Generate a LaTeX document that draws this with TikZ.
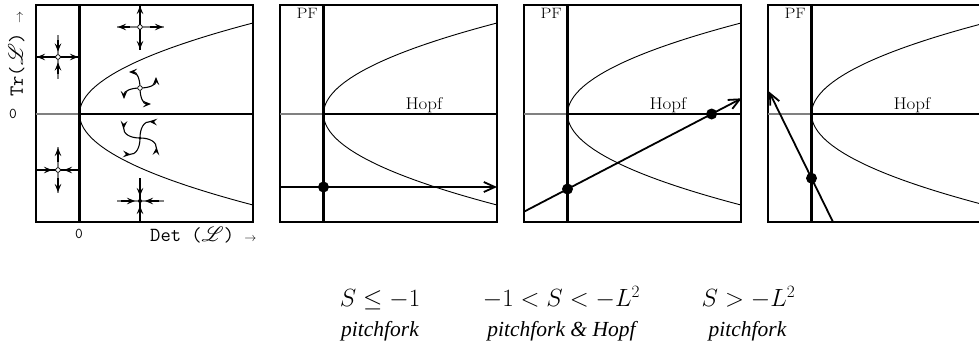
\documentclass[tikz,border=0pt]{standalone}
\usepackage{fontspec}
\usepackage{mathrsfs}
\usepackage{graphicx}
\usetikzlibrary{arrows.meta}
\newfontfamily\timesfont{Liberation Serif}
\begin{document}
\begin{tikzpicture}[x=1pt,y=-1pt,
  boxline/.style={line width=1.3pt},
  thickline/.style={line width=2.6pt},
  curveline/.style={line width=0.9pt},
  grayline/.style={line width=1.3pt, gray},
  blackline/.style={line width=1.1pt},
  traj/.style={line width=1.8pt},
  bigdot/.style={circle, fill, inner sep=0pt, minimum size=11pt},
  opendot/.style={circle, draw, fill=white, inner sep=0pt, minimum size=4.6pt, line width=0.7pt},
  smalldot/.style={circle, fill, inner sep=0pt, minimum size=4pt},
  pa/.style={line width=1.1pt, -{Stealth[length=8pt,width=6.5pt,inset=3pt]}},
  pastart/.style={line width=1.1pt, {Stealth[length=8pt,width=6.5pt,inset=3pt,reversed]}-},
  trajarrow/.style={traj, -{Straight Barb[length=11pt,width=10pt]}},
  lab/.style={font=\fontsize{17}{20}\selectfont, inner sep=0pt},
  pflab/.style={font=\fontsize{15}{17}\selectfont, inner sep=0pt},
  ttlab/.style={font=\ttfamily\fontsize{20}{24}\selectfont, inner sep=0pt},
  zerolab/.style={font=\ttfamily\fontsize{15}{17}\selectfont, inner sep=0pt},
  mathlab/.style={font=\fontsize{23}{27}\selectfont, inner sep=0pt, anchor=base},
  itlab/.style={font=\timesfont\itshape\fontsize{21.5}{26}\selectfont, inner sep=0pt, anchor=base}
]
\useasboundingbox (0,0) rectangle (979,359);
\clip (0,0) rectangle (979,359);

% panels
\foreach \L/\R in {36/253, 280/497, 524/741, 768/985}{
  \draw[boxline] (\L,5) rectangle (\R,222);
  \draw[grayline] (\L,114) -- (\L+43.5,114);
  \draw[curveline] plot[domain=-13.17:13.17, samples=90, smooth]
     ({\L+43.5+(\x)*(\x)},{114+6.91*\x});
  \draw[thickline] (\L+43.5,114) -- (\R,114);
  \draw[thickline] (\L+43.5,5) -- (\L+43.5,222);
}
\node[pflab, anchor=base east] (pf2) at (318,18) {\scalebox{1.15}[1]{PF}};
\node[pflab, anchor=base east] (pf3) at (562,18) {\scalebox{1.15}[1]{PF}};
\node[pflab, anchor=base east] (pf4) at (806,18) {\scalebox{1.15}[1]{PF}};
\foreach \L in {280,524,768}{
  \node[lab, anchor=base] (hopf\L) at (\L+144,109) {\scalebox{1.12}[1]{Hopf}};
}

% panel 1 labels
\node[ttlab, rotate=90, anchor=base west] (tr) at (23,97) {Tr($\mathscr{L}$) {\fontsize{12}{12}\selectfont$\rightarrow$}};
\node[ttlab, anchor=base west] (det) at (150,241.5) {Det ($\mathscr{L}$) {\fontsize{12}{12}\selectfont$\rightarrow$}};
\node[zerolab] (z1) at (13,114) {0};
\node[zerolab] (z2) at (79,234) {0};

% saddle top-left
\draw[grayline] (58,35) -- (58,79);
\draw[blackline] (36,57) -- (79,57);
\draw[pa] (50,57) -- (37,57);
\draw[pa] (66,57) -- (78,57);
\draw[pa] (58,40) -- (58,51.5);
\draw[pa] (58,74) -- (58,62.5);
\node[opendot] (s1) at (58,57) {};

% saddle bottom-left
\draw[grayline] (58,147) -- (58,193);
\draw[blackline] (36,170) -- (79,170);
\draw[pa] (40,170) -- (52,170);
\draw[pa] (76,170) -- (64,170);
\draw[pa] (58,162) -- (58,148);
\draw[pa] (58,178) -- (58,192);
\node[opendot] (s2) at (58,170) {};

% unstable node top-right
\draw[grayline] (117,27) -- (164,27);
\draw[blackline] (140,5) -- (140,50);
\draw[pa] (130,27) -- (118,27);
\draw[pa] (150,27) -- (163,27);
\draw[pa] (140,19) -- (140,6);
\draw[pa] (140,35) -- (140,49);
\node[opendot] (n1) at (140,27) {};

% stable node bottom-right
\draw[grayline] (117,201) -- (164,201);
\draw[blackline] (140,178) -- (140,222);
\draw[pa] (121,201) -- (135,201);
\draw[pa] (159,201) -- (145,201);
\draw[pa] (140,181) -- (140,196);
\draw[pa] (140,221) -- (140,206);
\node[smalldot] (n2) at (140,201) {};

% unstable spiral
\begin{scope}[shift={(140,88)}]
  \draw[pa] (0,0) .. controls (0,-9) and (-3,-16) .. (-11,-16);
  \draw[pa] (0,0) .. controls (9,0) and (16,-3) .. (16,-11);
  \draw[pa] (0,0) .. controls (0,9) and (3,16) .. (11,16);
  \draw[pa] (0,0) .. controls (-9,0) and (-16,3) .. (-16,11);
  \node[opendot] (u1) at (0,0) {};
\end{scope}

% stable spiral
\begin{scope}[shift={(140,138)}]
  \draw[pastart] (17,-16) .. controls (4,-17) and (0,-10) .. (0,0);
  \draw[pastart] (-16,-17) .. controls (-17,-4) and (-10,0) .. (0,0);
  \draw[pastart] (-17,16) .. controls (-4,17) and (0,10) .. (0,0);
  \draw[pastart] (16,17) .. controls (17,4) and (10,0) .. (0,0);
  \node[smalldot, minimum size=3pt] (u2) at (0,0) {};
\end{scope}

% trajectories
\coordinate (a2) at (280,187);
\coordinate (b2) at (497,187);
\draw[trajarrow] (a2) -- (b2);
\node[bigdot] (d2) at (323.5,187) {};

\coordinate (a3) at (524,211.7);
\coordinate (b3) at (741.7,98.3);
\draw[trajarrow] (a3) -- (b3);
\node[bigdot] (d3a) at (567.5,189) {};
\node[bigdot] (d3b) at (711.6,114) {};

\coordinate (a4) at (833,222);
\coordinate (b4) at (769,91.5);
\draw[trajarrow] (a4) -- (b4);
\node[bigdot] (d4) at (811.5,178.2) {};

% bottom labels
\node[mathlab] (m1) at (380,306.5) {$S\le -1$};
\node[mathlab] (m2) at (561.5,306.5) {$-1<S<-L^2$};
\node[mathlab] (m3) at (748.5,306.5) {$S>-L^2$};
\node[itlab] (p1) at (380,336.5) {pitchfork};
\node[itlab] (p2) at (561.5,336.5) {pitchfork \& Hopf};
\node[itlab] (p3) at (747.5,336.5) {pitchfork};
\end{tikzpicture}
\end{document}
